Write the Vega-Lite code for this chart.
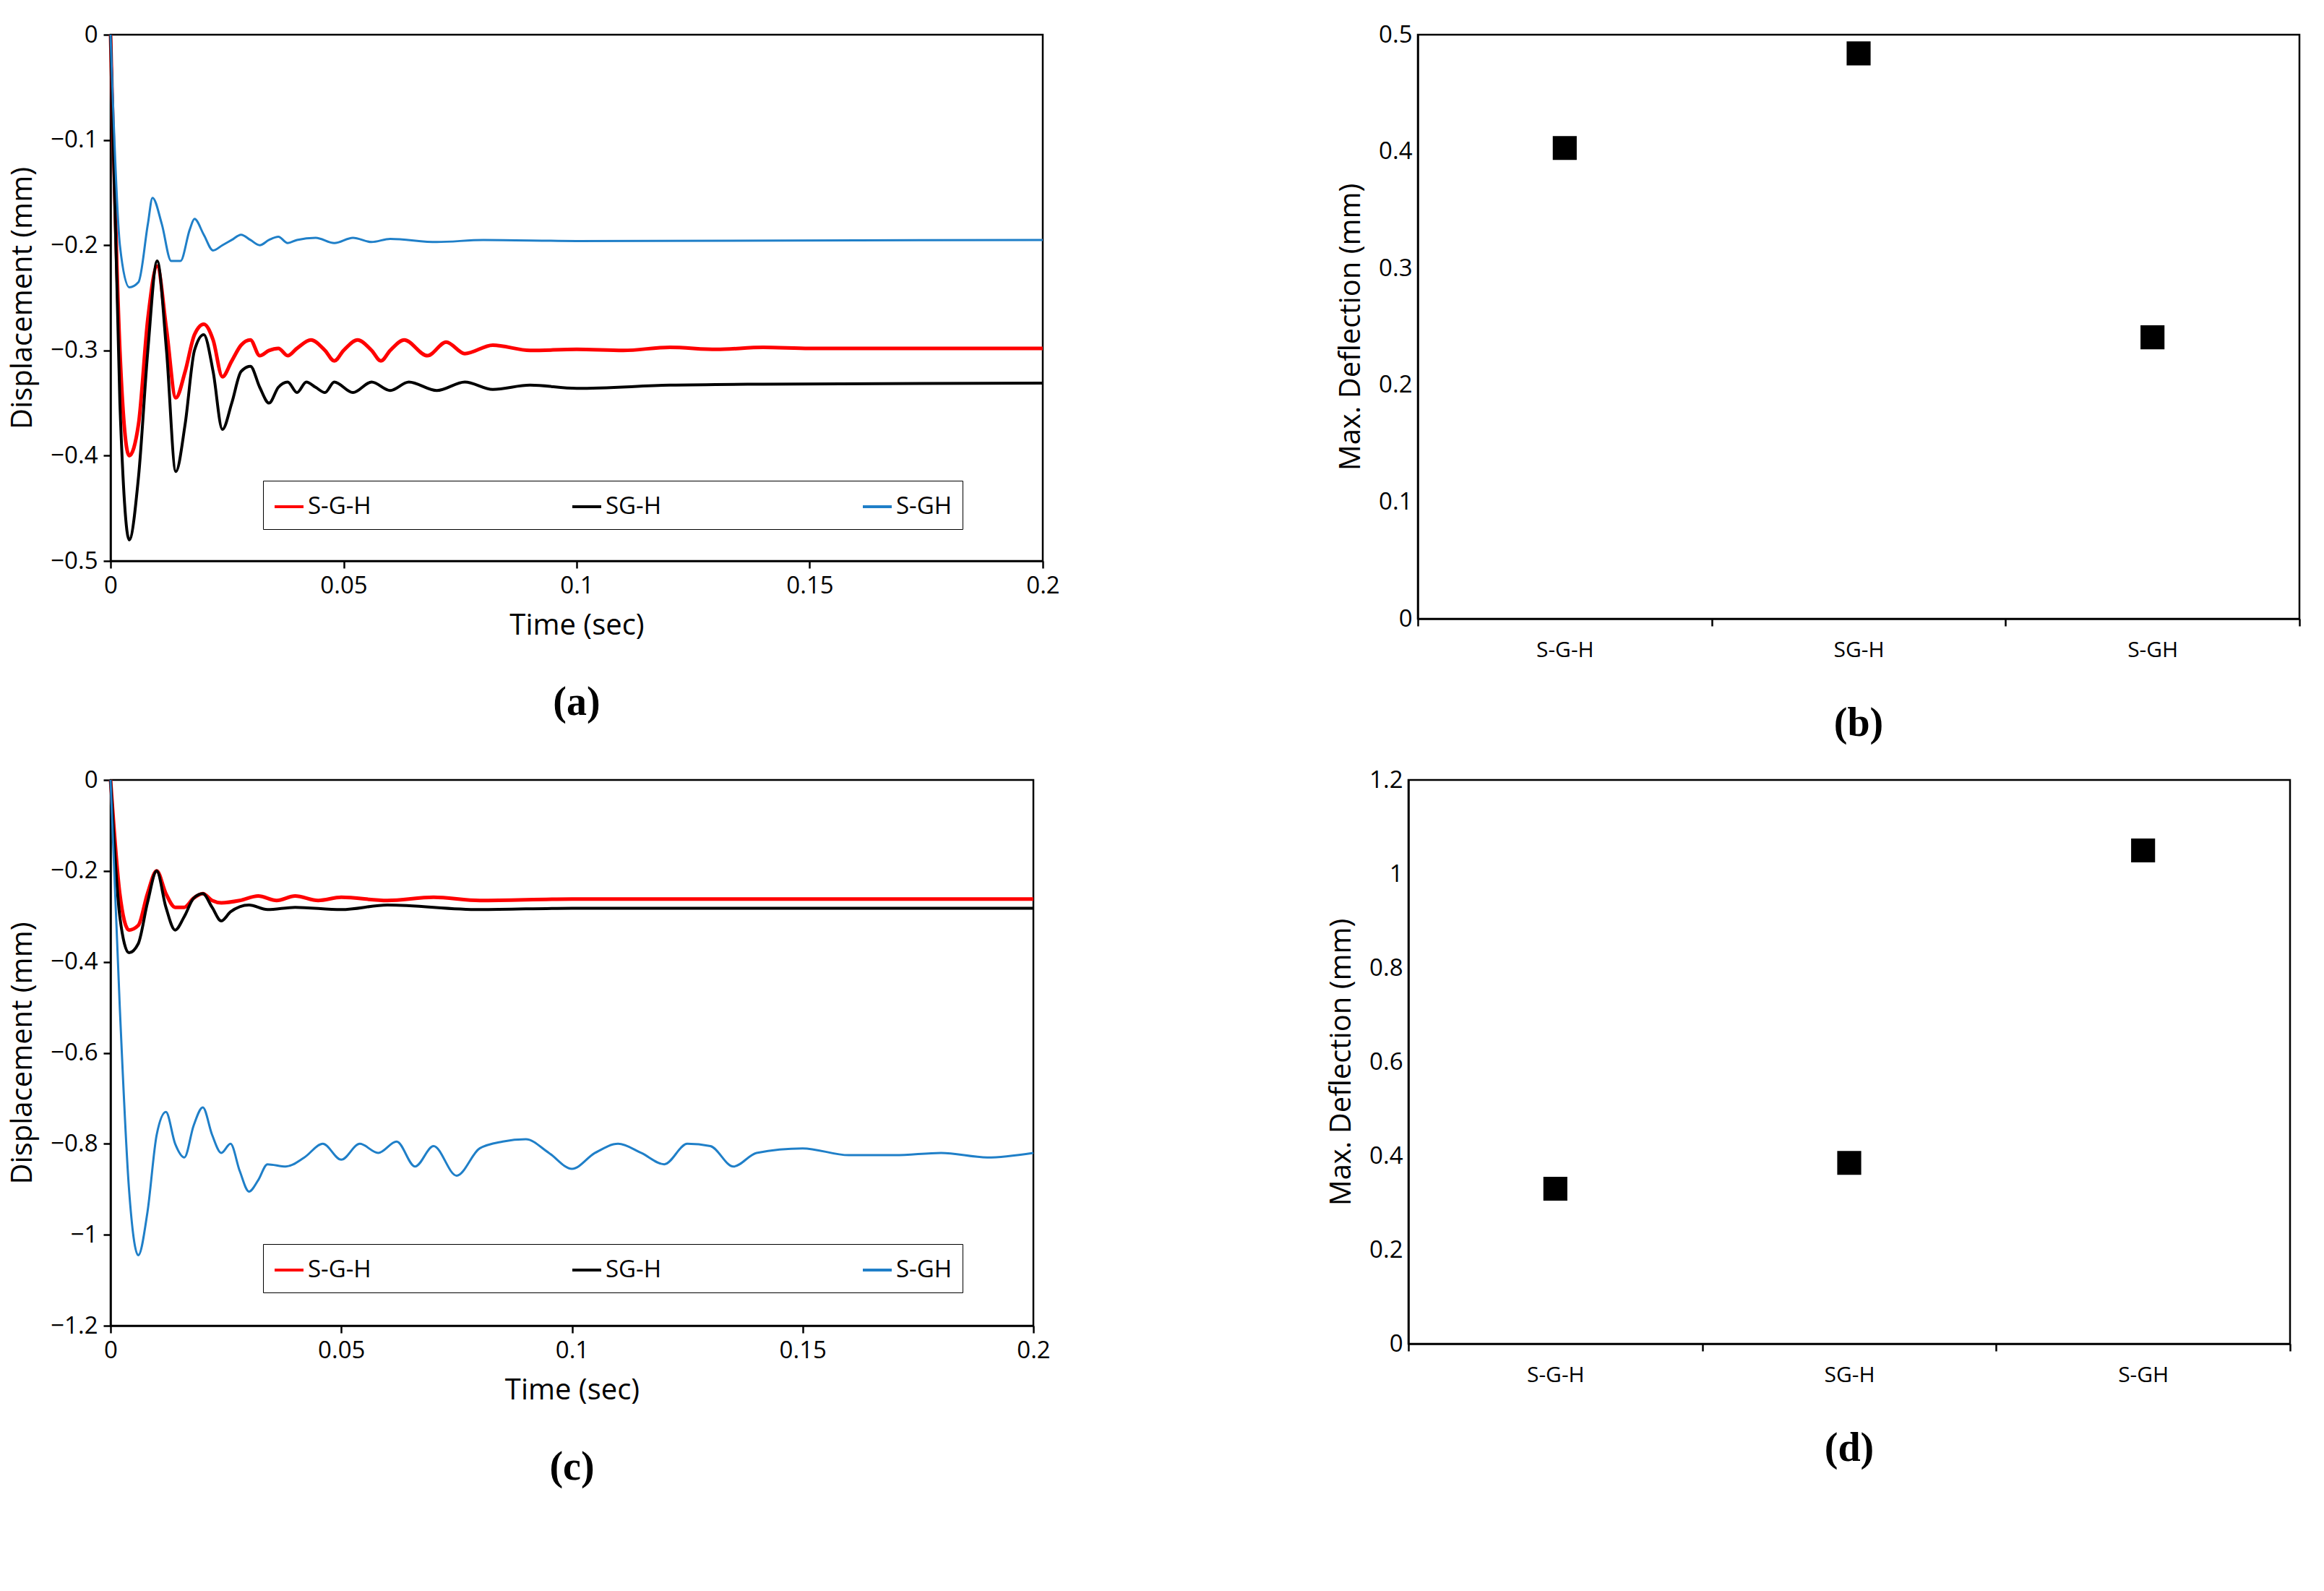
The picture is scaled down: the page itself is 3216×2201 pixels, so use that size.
{
  "$schema": "https://vega.github.io/schema/vega-lite/v6.json",
  "background": "white",
  "padding": {"left": 10, "top": 30, "right": 20, "bottom": 10},
  "config": {
    "font": "Open Sans",
    "view": {"stroke": "black", "strokeWidth": 2.5},
    "axis": {"grid": false, "domainColor": "black", "tickColor": "black", "labelColor": "black", "labelFontSize": 33, "titleFontSize": 40, "titleFontWeight": "normal", "tickSize": 10, "domainWidth": 2.5, "tickWidth": 2.5, "labelPadding": 8, "labelFlush": false, "titlePadding": 18},
    "title": {"orient": "bottom", "font": "Liberation Serif", "fontSize": 56, "fontWeight": "bold", "color": "black", "offset": 60},
    "legend": {"labelFontSize": 33, "labelColor": "black"}
  },
  "datasets": {
    "a": [
      {"s": "S-G-H", "t": 0, "y": 0}, {"s": "S-G-H", "t": 0.002, "y": -0.3}, {"s": "S-G-H", "t": 0.004, "y": -0.4}, {"s": "S-G-H", "t": 0.006, "y": -0.37}, {"s": "S-G-H", "t": 0.008, "y": -0.27}, {"s": "S-G-H", "t": 0.01, "y": -0.22}, {"s": "S-G-H", "t": 0.012, "y": -0.28}, {"s": "S-G-H", "t": 0.014, "y": -0.345}, {"s": "S-G-H", "t": 0.016, "y": -0.32}, {"s": "S-G-H", "t": 0.018, "y": -0.285}, {"s": "S-G-H", "t": 0.02, "y": -0.275}, {"s": "S-G-H", "t": 0.022, "y": -0.29}, {"s": "S-G-H", "t": 0.024, "y": -0.325}, {"s": "S-G-H", "t": 0.026, "y": -0.31}, {"s": "S-G-H", "t": 0.028, "y": -0.295}, {"s": "S-G-H", "t": 0.03, "y": -0.29}, {"s": "S-G-H", "t": 0.032, "y": -0.305}, {"s": "S-G-H", "t": 0.034, "y": -0.3}, {"s": "S-G-H", "t": 0.036, "y": -0.298}, {"s": "S-G-H", "t": 0.038, "y": -0.305}, {"s": "S-G-H", "t": 0.04, "y": -0.298}, {"s": "S-G-H", "t": 0.043, "y": -0.29}, {"s": "S-G-H", "t": 0.046, "y": -0.3}, {"s": "S-G-H", "t": 0.048, "y": -0.31}, {"s": "S-G-H", "t": 0.05, "y": -0.3}, {"s": "S-G-H", "t": 0.053, "y": -0.29}, {"s": "S-G-H", "t": 0.056, "y": -0.3}, {"s": "S-G-H", "t": 0.058, "y": -0.31}, {"s": "S-G-H", "t": 0.06, "y": -0.3}, {"s": "S-G-H", "t": 0.063, "y": -0.29}, {"s": "S-G-H", "t": 0.068, "y": -0.305}, {"s": "S-G-H", "t": 0.072, "y": -0.292}, {"s": "S-G-H", "t": 0.076, "y": -0.303}, {"s": "S-G-H", "t": 0.082, "y": -0.295}, {"s": "S-G-H", "t": 0.09, "y": -0.3}, {"s": "S-G-H", "t": 0.1, "y": -0.299}, {"s": "S-G-H", "t": 0.11, "y": -0.3}, {"s": "S-G-H", "t": 0.12, "y": -0.297}, {"s": "S-G-H", "t": 0.13, "y": -0.299}, {"s": "S-G-H", "t": 0.14, "y": -0.297}, {"s": "S-G-H", "t": 0.15, "y": -0.298}, {"s": "S-G-H", "t": 0.2, "y": -0.298},
      {"s": "SG-H", "t": 0, "y": 0}, {"s": "SG-H", "t": 0.002, "y": -0.35}, {"s": "SG-H", "t": 0.004, "y": -0.48}, {"s": "SG-H", "t": 0.006, "y": -0.42}, {"s": "SG-H", "t": 0.008, "y": -0.3}, {"s": "SG-H", "t": 0.01, "y": -0.215}, {"s": "SG-H", "t": 0.012, "y": -0.3}, {"s": "SG-H", "t": 0.014, "y": -0.415}, {"s": "SG-H", "t": 0.016, "y": -0.37}, {"s": "SG-H", "t": 0.018, "y": -0.3}, {"s": "SG-H", "t": 0.02, "y": -0.285}, {"s": "SG-H", "t": 0.022, "y": -0.32}, {"s": "SG-H", "t": 0.024, "y": -0.375}, {"s": "SG-H", "t": 0.026, "y": -0.35}, {"s": "SG-H", "t": 0.028, "y": -0.32}, {"s": "SG-H", "t": 0.03, "y": -0.315}, {"s": "SG-H", "t": 0.032, "y": -0.335}, {"s": "SG-H", "t": 0.034, "y": -0.35}, {"s": "SG-H", "t": 0.036, "y": -0.335}, {"s": "SG-H", "t": 0.038, "y": -0.33}, {"s": "SG-H", "t": 0.04, "y": -0.34}, {"s": "SG-H", "t": 0.042, "y": -0.33}, {"s": "SG-H", "t": 0.044, "y": -0.335}, {"s": "SG-H", "t": 0.046, "y": -0.34}, {"s": "SG-H", "t": 0.048, "y": -0.33}, {"s": "SG-H", "t": 0.052, "y": -0.34}, {"s": "SG-H", "t": 0.056, "y": -0.33}, {"s": "SG-H", "t": 0.06, "y": -0.338}, {"s": "SG-H", "t": 0.064, "y": -0.33}, {"s": "SG-H", "t": 0.07, "y": -0.338}, {"s": "SG-H", "t": 0.076, "y": -0.33}, {"s": "SG-H", "t": 0.082, "y": -0.337}, {"s": "SG-H", "t": 0.09, "y": -0.333}, {"s": "SG-H", "t": 0.1, "y": -0.336}, {"s": "SG-H", "t": 0.12, "y": -0.333}, {"s": "SG-H", "t": 0.14, "y": -0.332}, {"s": "SG-H", "t": 0.2, "y": -0.331},
      {"s": "S-GH", "t": 0, "y": 0}, {"s": "S-GH", "t": 0.002, "y": -0.2}, {"s": "S-GH", "t": 0.004, "y": -0.24}, {"s": "S-GH", "t": 0.006, "y": -0.235}, {"s": "S-GH", "t": 0.008, "y": -0.18}, {"s": "S-GH", "t": 0.009, "y": -0.155}, {"s": "S-GH", "t": 0.011, "y": -0.18}, {"s": "S-GH", "t": 0.013, "y": -0.215}, {"s": "S-GH", "t": 0.015, "y": -0.215}, {"s": "S-GH", "t": 0.017, "y": -0.185}, {"s": "S-GH", "t": 0.018, "y": -0.175}, {"s": "S-GH", "t": 0.02, "y": -0.19}, {"s": "S-GH", "t": 0.022, "y": -0.205}, {"s": "S-GH", "t": 0.024, "y": -0.2}, {"s": "S-GH", "t": 0.026, "y": -0.195}, {"s": "S-GH", "t": 0.028, "y": -0.19}, {"s": "S-GH", "t": 0.03, "y": -0.195}, {"s": "S-GH", "t": 0.032, "y": -0.2}, {"s": "S-GH", "t": 0.034, "y": -0.195}, {"s": "S-GH", "t": 0.036, "y": -0.192}, {"s": "S-GH", "t": 0.038, "y": -0.198}, {"s": "S-GH", "t": 0.04, "y": -0.195}, {"s": "S-GH", "t": 0.044, "y": -0.193}, {"s": "S-GH", "t": 0.048, "y": -0.198}, {"s": "S-GH", "t": 0.052, "y": -0.193}, {"s": "S-GH", "t": 0.056, "y": -0.197}, {"s": "S-GH", "t": 0.06, "y": -0.194}, {"s": "S-GH", "t": 0.07, "y": -0.197}, {"s": "S-GH", "t": 0.08, "y": -0.195}, {"s": "S-GH", "t": 0.1, "y": -0.196}, {"s": "S-GH", "t": 0.2, "y": -0.195}
    ],
    "c": [
      {"s": "S-G-H", "t": 0, "y": 0}, {"s": "S-G-H", "t": 0.002, "y": -0.25}, {"s": "S-G-H", "t": 0.004, "y": -0.33}, {"s": "S-G-H", "t": 0.006, "y": -0.32}, {"s": "S-G-H", "t": 0.008, "y": -0.25}, {"s": "S-G-H", "t": 0.01, "y": -0.2}, {"s": "S-G-H", "t": 0.012, "y": -0.25}, {"s": "S-G-H", "t": 0.014, "y": -0.28}, {"s": "S-G-H", "t": 0.016, "y": -0.28}, {"s": "S-G-H", "t": 0.018, "y": -0.26}, {"s": "S-G-H", "t": 0.02, "y": -0.25}, {"s": "S-G-H", "t": 0.022, "y": -0.265}, {"s": "S-G-H", "t": 0.024, "y": -0.27}, {"s": "S-G-H", "t": 0.028, "y": -0.265}, {"s": "S-G-H", "t": 0.032, "y": -0.255}, {"s": "S-G-H", "t": 0.036, "y": -0.265}, {"s": "S-G-H", "t": 0.04, "y": -0.255}, {"s": "S-G-H", "t": 0.045, "y": -0.265}, {"s": "S-G-H", "t": 0.05, "y": -0.258}, {"s": "S-G-H", "t": 0.06, "y": -0.265}, {"s": "S-G-H", "t": 0.07, "y": -0.258}, {"s": "S-G-H", "t": 0.08, "y": -0.265}, {"s": "S-G-H", "t": 0.1, "y": -0.262}, {"s": "S-G-H", "t": 0.2, "y": -0.262},
      {"s": "SG-H", "t": 0, "y": 0}, {"s": "SG-H", "t": 0.002, "y": -0.3}, {"s": "SG-H", "t": 0.004, "y": -0.38}, {"s": "SG-H", "t": 0.006, "y": -0.36}, {"s": "SG-H", "t": 0.008, "y": -0.27}, {"s": "SG-H", "t": 0.01, "y": -0.2}, {"s": "SG-H", "t": 0.012, "y": -0.28}, {"s": "SG-H", "t": 0.014, "y": -0.33}, {"s": "SG-H", "t": 0.016, "y": -0.3}, {"s": "SG-H", "t": 0.018, "y": -0.26}, {"s": "SG-H", "t": 0.02, "y": -0.25}, {"s": "SG-H", "t": 0.022, "y": -0.28}, {"s": "SG-H", "t": 0.024, "y": -0.31}, {"s": "SG-H", "t": 0.026, "y": -0.29}, {"s": "SG-H", "t": 0.03, "y": -0.275}, {"s": "SG-H", "t": 0.034, "y": -0.285}, {"s": "SG-H", "t": 0.04, "y": -0.28}, {"s": "SG-H", "t": 0.05, "y": -0.285}, {"s": "SG-H", "t": 0.06, "y": -0.275}, {"s": "SG-H", "t": 0.08, "y": -0.285}, {"s": "SG-H", "t": 0.1, "y": -0.282}, {"s": "SG-H", "t": 0.2, "y": -0.282},
      {"s": "S-GH", "t": 0, "y": 0}, {"s": "S-GH", "t": 0.002, "y": -0.5}, {"s": "S-GH", "t": 0.004, "y": -0.9}, {"s": "S-GH", "t": 0.006, "y": -1.045}, {"s": "S-GH", "t": 0.008, "y": -0.95}, {"s": "S-GH", "t": 0.01, "y": -0.78}, {"s": "S-GH", "t": 0.012, "y": -0.73}, {"s": "S-GH", "t": 0.014, "y": -0.8}, {"s": "S-GH", "t": 0.016, "y": -0.83}, {"s": "S-GH", "t": 0.018, "y": -0.76}, {"s": "S-GH", "t": 0.02, "y": -0.72}, {"s": "S-GH", "t": 0.022, "y": -0.78}, {"s": "S-GH", "t": 0.024, "y": -0.82}, {"s": "S-GH", "t": 0.026, "y": -0.8}, {"s": "S-GH", "t": 0.028, "y": -0.86}, {"s": "S-GH", "t": 0.03, "y": -0.905}, {"s": "S-GH", "t": 0.032, "y": -0.88}, {"s": "S-GH", "t": 0.034, "y": -0.845}, {"s": "S-GH", "t": 0.038, "y": -0.85}, {"s": "S-GH", "t": 0.042, "y": -0.83}, {"s": "S-GH", "t": 0.046, "y": -0.8}, {"s": "S-GH", "t": 0.05, "y": -0.835}, {"s": "S-GH", "t": 0.054, "y": -0.8}, {"s": "S-GH", "t": 0.058, "y": -0.82}, {"s": "S-GH", "t": 0.062, "y": -0.795}, {"s": "S-GH", "t": 0.066, "y": -0.85}, {"s": "S-GH", "t": 0.07, "y": -0.805}, {"s": "S-GH", "t": 0.075, "y": -0.87}, {"s": "S-GH", "t": 0.08, "y": -0.81}, {"s": "S-GH", "t": 0.085, "y": -0.795}, {"s": "S-GH", "t": 0.09, "y": -0.79}, {"s": "S-GH", "t": 0.095, "y": -0.82}, {"s": "S-GH", "t": 0.1, "y": -0.855}, {"s": "S-GH", "t": 0.105, "y": -0.82}, {"s": "S-GH", "t": 0.11, "y": -0.8}, {"s": "S-GH", "t": 0.115, "y": -0.82}, {"s": "S-GH", "t": 0.12, "y": -0.845}, {"s": "S-GH", "t": 0.125, "y": -0.8}, {"s": "S-GH", "t": 0.13, "y": -0.805}, {"s": "S-GH", "t": 0.135, "y": -0.85}, {"s": "S-GH", "t": 0.14, "y": -0.82}, {"s": "S-GH", "t": 0.15, "y": -0.81}, {"s": "S-GH", "t": 0.16, "y": -0.825}, {"s": "S-GH", "t": 0.17, "y": -0.825}, {"s": "S-GH", "t": 0.18, "y": -0.82}, {"s": "S-GH", "t": 0.19, "y": -0.83}, {"s": "S-GH", "t": 0.2, "y": -0.82}
    ],
    "b": [{"s": "S-G-H", "v": 0.403}, {"s": "SG-H", "v": 0.484}, {"s": "S-GH", "v": 0.241}],
    "d": [{"s": "S-G-H", "v": 0.33}, {"s": "SG-H", "v": 0.385}, {"s": "S-GH", "v": 1.05}]
  },
  "spacing": 30,
  "vconcat": [
    {
      "spacing": 380,
      "hconcat": [
        {
          "title": "(a)",
          "width": 1290, "height": 728,
          "data": {"name": "a"},
          "mark": {"type": "line", "interpolate": "monotone"},
          "encoding": {
            "x": {"field": "t", "type": "quantitative", "title": "Time (sec)", "scale": {"domain": [0, 0.2], "nice": false}, "axis": {"values": [0, 0.05, 0.1, 0.15, 0.2], "format": "~g"}},
            "y": {"field": "y", "type": "quantitative", "title": "Displacement (mm)", "scale": {"domain": [-0.5, 0], "nice": false}, "axis": {"values": [-0.5, -0.4, -0.3, -0.2, -0.1, 0], "format": "~g"}},
            "color": {"field": "s", "type": "nominal", "sort": ["S-G-H", "SG-H", "S-GH"], "scale": {"domain": ["S-G-H", "SG-H", "S-GH"], "range": ["#ff0000", "#000000", "#1f7fc8"]},
              "legend": {"title": null, "orient": "none", "legendX": 211, "legendY": 617, "direction": "horizontal", "columns": 3, "columnPadding": 270, "symbolType": "stroke", "symbolStrokeWidth": 4, "symbolSize": 1600, "padding": 14, "strokeColor": "black", "offset": 0}},
            "strokeWidth": {"field": "s", "type": "nominal", "scale": {"domain": ["S-G-H", "SG-H", "S-GH"], "range": [5, 3, 3]}, "legend": null}
          }
        },
        {
          "title": "(b)",
          "width": 1220, "height": 808,
          "data": {"name": "b"},
          "mark": {"type": "square", "size": 1100, "color": "black", "opacity": 1, "filled": true},
          "encoding": {
            "x": {"field": "s", "type": "nominal", "sort": ["S-G-H", "SG-H", "S-GH"], "title": null, "axis": {"labelAngle": 0, "labelFontSize": 30, "tickBand": "extent", "labelPadding": 18}},
            "y": {"field": "v", "type": "quantitative", "title": "Max. Deflection (mm)", "scale": {"domain": [0, 0.5], "nice": false}, "axis": {"values": [0, 0.1, 0.2, 0.3, 0.4, 0.5], "format": "~g", "tickSize": 0}}
          }
        }
      ]
    },
    {
      "spacing": 380,
      "hconcat": [
        {
          "title": "(c)",
          "width": 1277, "height": 755,
          "data": {"name": "c"},
          "mark": {"type": "line", "interpolate": "monotone"},
          "encoding": {
            "x": {"field": "t", "type": "quantitative", "title": "Time (sec)", "scale": {"domain": [0, 0.2], "nice": false}, "axis": {"values": [0, 0.05, 0.1, 0.15, 0.2], "format": "~g"}},
            "y": {"field": "y", "type": "quantitative", "title": "Displacement (mm)", "scale": {"domain": [-1.2, 0], "nice": false}, "axis": {"values": [-1.2, -1, -0.8, -0.6, -0.4, -0.2, 0], "format": "~g"}},
            "color": {"field": "s", "type": "nominal", "sort": ["S-G-H", "SG-H", "S-GH"], "scale": {"domain": ["S-G-H", "SG-H", "S-GH"], "range": ["#ff0000", "#000000", "#1f7fc8"]},
              "legend": {"title": null, "orient": "none", "legendX": 211, "legendY": 642, "direction": "horizontal", "columns": 3, "columnPadding": 270, "symbolType": "stroke", "symbolStrokeWidth": 4, "symbolSize": 1600, "padding": 14, "strokeColor": "black", "offset": 0}},
            "strokeWidth": {"field": "s", "type": "nominal", "scale": {"domain": ["S-G-H", "SG-H", "S-GH"], "range": [5, 3, 3]}, "legend": null}
          }
        },
        {
          "title": "(d)",
          "width": 1220, "height": 780,
          "data": {"name": "d"},
          "mark": {"type": "square", "size": 1100, "color": "black", "opacity": 1, "filled": true},
          "encoding": {
            "x": {"field": "s", "type": "nominal", "sort": ["S-G-H", "SG-H", "S-GH"], "title": null, "axis": {"labelAngle": 0, "labelFontSize": 30, "tickBand": "extent", "labelPadding": 18}},
            "y": {"field": "v", "type": "quantitative", "title": "Max. Deflection (mm)", "scale": {"domain": [0, 1.2], "nice": false}, "axis": {"values": [0, 0.2, 0.4, 0.6, 0.8, 1, 1.2], "format": "~g", "tickSize": 0}}
          }
        }
      ]
    }
  ],
  "resolve": {"scale": {"color": "independent"}}
}
